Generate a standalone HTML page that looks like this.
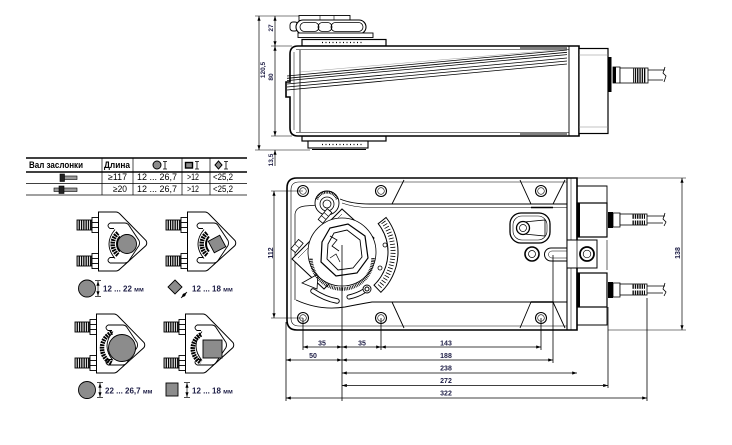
<!DOCTYPE html>
<html><head><meta charset="utf-8"><style>
html,body{margin:0;padding:0;background:#fff;width:732px;height:445px;overflow:hidden}
svg{display:block}
</style></head><body>
<svg xmlns="http://www.w3.org/2000/svg" xmlns:xlink="http://www.w3.org/1999/xlink" width="732" height="445" viewBox="0 0 732 445" font-family="'Liberation Sans', 'Noto Sans CJK SC', sans-serif">
<defs>
<marker id="ar" viewBox="0 0 6 4" markerWidth="5" markerHeight="3.2" refX="6" refY="2" orient="auto-start-reverse" markerUnits="userSpaceOnUse"><path d="M0,0 L6,2 L0,4 Z" fill="#000"/></marker>
<pattern id="thr" width="2.3" height="20" patternUnits="userSpaceOnUse"><rect width="1.3" height="20" fill="#000"/></pattern>
<g id="cb" stroke="#000" stroke-width="0.9">
 <rect x="-43" y="-21.5" width="15" height="10" fill="url(#thr)"/>
 <rect x="-43" y="14.5" width="15" height="10" fill="url(#thr)"/>
 <rect x="-28" y="-24" width="6.5" height="15" fill="#fff"/>
 <line x1="-28" y1="-19" x2="-21.5" y2="-19"/><line x1="-28" y1="-14" x2="-21.5" y2="-14"/>
 <rect x="-28" y="12" width="6.5" height="15" fill="#fff"/>
 <line x1="-28" y1="17" x2="-21.5" y2="17"/><line x1="-28" y1="22" x2="-21.5" y2="22"/>
 <path d="M-21.5,-29.5 H-4 Q-2,-29.5 0,-27.5 L26,-1 Q27.5,1.5 26,4 L0,27.5 Q-2,29.5 -4,29.5 H-21.5 Z" fill="#fff" stroke-width="1"/>
 <path d="M-10,-18.5 H5 Q7,-18.5 8.5,-16.8 L19,-1 Q20,1.5 19,4 L8.5,19.8 Q7,21.5 5,21.5 H-10" fill="none"/>
 <path d="M-10,-18.5 Q-14,-16 -10,-13 L-6,-13 M-10,21.5 Q-14,19 -10,16 L-6,16" fill="none"/>
 <path d="M-5,-12 Q-17,2.5 -5,17" fill="none"/>
</g>
</defs>

<!-- ================= TABLE ================= -->
<g stroke="#000" fill="none">
 <line x1="26" y1="158" x2="247" y2="158" stroke-width="1.6"/>
 <line x1="26" y1="172" x2="247" y2="172" stroke-width="1.6"/>
 <line x1="26" y1="183.5" x2="247" y2="183.5" stroke-width="0.7"/>
 <line x1="26" y1="195" x2="247" y2="195" stroke-width="0.7"/>
 <line x1="102" y1="158" x2="102" y2="195" stroke-width="0.7"/>
 <line x1="133" y1="158" x2="133" y2="195" stroke-width="0.7"/>
 <line x1="182" y1="158" x2="182" y2="195" stroke-width="0.7"/>
 <line x1="210" y1="158" x2="210" y2="195" stroke-width="0.7"/>
</g>
<g font-size="9" fill="#000">
 <text x="29" y="168" font-weight="bold" textLength="54" lengthAdjust="spacingAndGlyphs">Вал заслонки</text>
 <text x="104" y="168" font-weight="bold" textLength="26" lengthAdjust="spacingAndGlyphs">Длина</text>
 <text x="108" y="180" textLength="19" lengthAdjust="spacingAndGlyphs">≥117</text>
 <text x="137" y="180" textLength="40" lengthAdjust="spacingAndGlyphs">12 ... 26,7</text>
 <text x="187" y="180" textLength="12" lengthAdjust="spacingAndGlyphs">&gt;12</text>
 <text x="213" y="180" textLength="20" lengthAdjust="spacingAndGlyphs">&lt;25,2</text>
 <text x="113" y="192" textLength="14" lengthAdjust="spacingAndGlyphs">≥20</text>
 <text x="137" y="192" textLength="40" lengthAdjust="spacingAndGlyphs">12 ... 26,7</text>
 <text x="187" y="192" textLength="12" lengthAdjust="spacingAndGlyphs">&gt;12</text>
 <text x="213" y="192" textLength="20" lengthAdjust="spacingAndGlyphs">&lt;25,2</text>
</g>
<!-- header icons -->
<g stroke="#000" stroke-width="0.8">
 <circle cx="157" cy="165" r="4" fill="#8c8c8c" stroke-width="1"/>
 <path d="M163,161.5 H167 M165,161.5 V169 M163,169 H167" fill="none"/>
 <rect x="185.5" y="162.5" width="7" height="5.5" fill="#8c8c8c" stroke-width="1.4"/>
 <path d="M195,161.5 H199 M197,161.5 V169 M195,169 H199" fill="none"/>
 <path d="M218.5,161 L222,165 L218.5,169 L215,165 Z" fill="#8c8c8c" stroke-width="1"/>
 <path d="M224,161.5 H228 M226,161.5 V169 M224,169 H228" fill="none"/>
 <!-- shaft icons -->
 <rect x="64" y="176" width="13" height="3.5" fill="#9a9a9a" stroke-width="0.6"/>
 <rect x="60" y="174" width="4.5" height="7.5" fill="#222" stroke-width="0.6"/>
 <rect x="54" y="188" width="23" height="3.5" fill="#9a9a9a" stroke-width="0.6"/>
 <rect x="59" y="186" width="5" height="7.5" fill="#222" stroke-width="0.6"/>
</g>

<!-- ================= CLAMPS ================= -->
<use xlink:href="#cb" href="#cb" transform="translate(120,241.5)"/>
<g transform="translate(120,241.5)" stroke="#000">
 <path d="M-2,-8.5 A14,14 0 0 0 -2,13.5" fill="none" stroke-width="4.5" stroke-dasharray="1.8 0.8"/>
 <path d="M0,-5 A11,11 0 0 0 0,10" fill="none" stroke-width="2"/>
 <circle cx="7" cy="2.5" r="9.5" fill="#8c8c8c" stroke-width="0.9"/>
</g>
<use xlink:href="#cb" href="#cb" transform="translate(209,241.5)"/>
<g transform="translate(209,241.5)" stroke="#000">
 <path d="M-2,-8.5 A14,14 0 0 0 -2,13.5" fill="none" stroke-width="4.5" stroke-dasharray="1.8 0.8"/>
 <path d="M0,-5 A11,11 0 0 0 0,10" fill="none" stroke-width="2"/>
 <rect x="-6.5" y="-6.5" width="13" height="13" fill="#8c8c8c" stroke-width="0.9" transform="translate(8,2.5) rotate(-28)"/>
</g>
<use xlink:href="#cb" href="#cb" transform="translate(118,343.5)"/>
<g transform="translate(118,343.5)" stroke="#000">
 <path d="M-6,-11 A17,17 0 0 0 -6,20" fill="none" stroke-width="4.5" stroke-dasharray="1.8 0.8"/>
 <circle cx="4" cy="4.5" r="13.5" fill="#8c8c8c" stroke-width="0.9"/>
</g>
<use xlink:href="#cb" href="#cb" transform="translate(207,343.5)"/>
<g transform="translate(207,343.5)" stroke="#000">
 <path d="M-6,-9 A16,16 0 0 0 -6,19" fill="none" stroke-width="4.5" stroke-dasharray="1.8 0.8"/>
 <rect x="-4" y="-3.5" width="19" height="18" fill="#8c8c8c" stroke-width="0.9"/>
</g>

<!-- legend -->
<g stroke="#000" stroke-width="0.7" fill="none">
 <circle cx="87" cy="288.5" r="8.5" fill="#8c8c8c" stroke-width="0.9"/>
 <line x1="98" y1="281" x2="98" y2="296" marker-start="url(#ar)" marker-end="url(#ar)"/>
 <line x1="95" y1="280.5" x2="101" y2="280.5"/><line x1="95" y1="296.5" x2="101" y2="296.5"/>
 <path d="M175,280 L182,287 L175,294 L168,287 Z" fill="#8c8c8c" stroke-width="0.9"/>
 <line x1="181" y1="298" x2="187" y2="292" marker-start="url(#ar)" marker-end="url(#ar)"/>
 <circle cx="87" cy="390" r="8.5" fill="#8c8c8c" stroke-width="0.9"/>
 <line x1="100" y1="383" x2="100" y2="397" marker-start="url(#ar)" marker-end="url(#ar)"/>
 <line x1="97" y1="382.5" x2="103" y2="382.5"/><line x1="97" y1="397.5" x2="103" y2="397.5"/>
 <rect x="166" y="383" width="12" height="13" fill="#8c8c8c" stroke-width="0.9"/>
 <line x1="187" y1="383" x2="187" y2="397" marker-start="url(#ar)" marker-end="url(#ar)"/>
 <line x1="184" y1="382.5" x2="190" y2="382.5"/><line x1="184" y1="397.5" x2="190" y2="397.5"/>
</g>
<g font-size="8" font-weight="bold" fill="#1d1d45">
 <text x="103" y="291.5">12 ... 22 <tspan font-size="6.5">мм</tspan></text>
 <text x="192" y="291.5">12 ... 18 <tspan font-size="6.5">мм</tspan></text>
 <text x="105" y="393.5">22 ... 26,7 <tspan font-size="6.5">мм</tspan></text>
 <text x="192" y="393.5">12 ... 18 <tspan font-size="6.5">мм</tspan></text>
</g>

<!-- ================= TOP VIEW ================= -->
<g fill="none" stroke="#000">
 <!-- dimension lines -->
 <line x1="259" y1="16" x2="259" y2="150" stroke-width="0.7" marker-start="url(#ar)" marker-end="url(#ar)"/>
 <line x1="275" y1="16" x2="275" y2="46" stroke-width="0.7" marker-start="url(#ar)" marker-end="url(#ar)"/>
 <line x1="275" y1="46" x2="275" y2="136" stroke-width="0.7" marker-start="url(#ar)" marker-end="url(#ar)"/>
 <line x1="275" y1="150" x2="275" y2="166" stroke-width="0.7" marker-start="url(#ar)"/>
 <line x1="255" y1="16" x2="300" y2="16" stroke-width="0.6"/>
 <line x1="271" y1="46" x2="292" y2="46" stroke-width="0.6"/>
 <line x1="271" y1="136" x2="292" y2="136" stroke-width="0.6"/>
 <line x1="255" y1="150" x2="310" y2="150" stroke-width="0.6"/>

 <!-- top clamp -->
 <rect x="299" y="15.5" width="51" height="5" stroke-width="0.9" fill="#fff"/>
 <line x1="320" y1="15.5" x2="320" y2="20.5" stroke-width="0.6"/>
 <line x1="334" y1="15.5" x2="334" y2="20.5" stroke-width="0.6"/>
 <rect x="290" y="22" width="8" height="9" rx="3" stroke-width="0.9" fill="#fff"/>
 <rect x="296" y="20" width="70" height="14" rx="7" stroke-width="1.1" fill="#fff"/>
 <rect x="300" y="22.5" width="19" height="9" rx="4.5" stroke-width="0.8"/>
 <rect x="318" y="22.5" width="14" height="9" rx="4.5" stroke-width="0.8"/>
 <rect x="331" y="22.5" width="32" height="9" rx="4.5" stroke-width="0.8"/>
 <rect x="298" y="33" width="75" height="4.5" stroke-width="0.9" fill="#fff"/>
 <rect x="302" y="39.5" width="84" height="6.5" stroke-width="1.2" fill="#fff"/>
 <line x1="322" y1="42.5" x2="362" y2="42.5" stroke-width="1.3" stroke-dasharray="1 2.5"/>
 <!-- bottom clamp -->
 <rect x="302" y="136" width="84" height="5" stroke-width="1.2" fill="#fff"/>
 <rect x="308" y="141" width="60" height="7" stroke-width="1.1" fill="#fff"/>
 <line x1="322" y1="144.5" x2="362" y2="144.5" stroke-width="1.3" stroke-dasharray="1 2.5"/>
 <line x1="312" y1="149.5" x2="366" y2="149.5" stroke-width="0.9"/>

 <!-- body -->
 <path d="M298,46 H579 V136 H298 Q290,136 290,128 V97 H286 V82 H290 V54 Q290,46 298,46 Z" stroke-width="1.6" fill="#fff"/>
 <line x1="296" y1="49.5" x2="569" y2="49.5" stroke-width="0.6"/>
 <line x1="296" y1="132.5" x2="569" y2="132.5" stroke-width="0.6"/>
 <line x1="300" y1="50" x2="300" y2="132" stroke-width="0.8"/>
 <line x1="294" y1="52" x2="294" y2="130" stroke-width="0.5"/>
 <line x1="569" y1="46" x2="569" y2="136" stroke-width="0.9"/>
 <line x1="520" y1="48" x2="567" y2="48" stroke-width="1"/>
 <line x1="520" y1="134" x2="567" y2="134" stroke-width="1"/>
 <!-- stripes -->
 <g stroke-width="0.8">
  <line x1="287" y1="76" x2="567" y2="50"/>
  <line x1="287" y1="78.3" x2="567" y2="52.3"/>
  <line x1="287" y1="80.6" x2="567" y2="54.6"/>
  <line x1="287" y1="84" x2="567" y2="58"/>
  <line x1="287" y1="87" x2="567" y2="61"/>
  <line x1="287" y1="90" x2="567" y2="64"/>
 </g>
 <line x1="300" y1="72" x2="567" y2="49" stroke-width="0.4" stroke="#888"/>
 <!-- end cap -->
 <rect x="579" y="48.5" width="29" height="85" stroke-width="1.2" fill="#fff"/>
 <line x1="579" y1="55" x2="608" y2="55" stroke-width="0.6" stroke="#888"/>
 <line x1="579" y1="127" x2="608" y2="127" stroke-width="0.6" stroke="#888"/>
 <rect x="607.5" y="57" width="4" height="35" fill="#000" stroke="none"/>
 <!-- cable -->
 <rect x="613" y="67" width="7" height="16" stroke-width="0.8" fill="#fff"/>
 <rect x="613" y="67" width="3" height="16" fill="#000" stroke="none"/>
 <rect x="620" y="68" width="28" height="15" stroke-width="0.8" fill="#fff"/>
 <rect x="633" y="68.5" width="13" height="14" fill="url(#thr)" stroke="none"/>
 <path d="M648,70 H665 M648,80 H663" stroke-width="0.8"/>
 <path d="M665,67 L663,73 L666,76 L664,82" stroke-width="0.8"/>
</g>
<g font-size="7" font-weight="bold" fill="#1d1d45">
 <text transform="translate(265,70) rotate(-90)" text-anchor="middle" font-size="6.5">120,5</text>
 <text transform="translate(273,28) rotate(-90)" text-anchor="middle" font-size="6.5">27</text>
 <text transform="translate(273,77) rotate(-90)" text-anchor="middle" font-size="6.5">80</text>
 <text transform="translate(273,160) rotate(-90)" text-anchor="middle" font-size="6.5">13,5</text>
</g>

<!-- ================= FRONT VIEW ================= -->
<g fill="none" stroke="#000">
 <!-- body outline -->
 <path d="M297,178 H577 V330 H297 Q287,330 287,320 V188 Q287,178 297,178 Z" stroke-width="1.6" fill="#fff"/>
 <path d="M299,182 H567 M299,326 H567 M291,190 Q291,182 299,182 M291,318 Q291,326 299,326 M291,190 V318" stroke-width="0.6"/>
 <line x1="567" y1="178" x2="567" y2="330" stroke-width="1.1"/>
 <line x1="571" y1="178" x2="571" y2="330" stroke-width="0.5"/>
 <!-- inner lines -->
 <path d="M340,199 Q352,204 370,204 H567" stroke-width="0.9"/>
 <path d="M342,203 Q354,207.5 370,207.5 H567" stroke-width="0.6"/>
 <path d="M296,300 Q320,311 345,307 Q360,304 372,302 H567" stroke-width="0.9"/>
 <path d="M295,300 V214 Q296,207 305,206 L318,205" stroke-width="0.7"/>
 <!-- bosses -->
 <path d="M404,180 L392,204 M520,180 L531,204 M565,180 L553,204" stroke-width="0.9"/>
 <path d="M392,302 L404,328 M531,302 L520,328 M553,302 L565,328" stroke-width="0.9"/>
 <path d="M531,207.5 L553,207.5" stroke-width="1.5"/>
 <path d="M531,302 L553,302" stroke-width="1.5"/>
 <!-- holes -->
 <g stroke-width="1.1">
  <circle cx="303" cy="191" r="5.5"/><circle cx="303" cy="191" r="3.3" stroke-width="0.6"/>
  <circle cx="381" cy="191" r="5.5"/><circle cx="381" cy="191" r="3.3" stroke-width="0.6"/>
  <circle cx="541" cy="191" r="5.5"/><circle cx="541" cy="191" r="3.3" stroke-width="0.6"/>
  <circle cx="303" cy="318" r="5.5"/><circle cx="303" cy="318" r="3.3" stroke-width="0.6"/>
  <circle cx="381" cy="318" r="5.5"/><circle cx="381" cy="318" r="3.3" stroke-width="0.6"/>
  <circle cx="541" cy="318" r="5.5"/><circle cx="541" cy="318" r="3.3" stroke-width="0.6"/>
 </g>

 <!-- gear assembly -->
 <path d="M378.2,223.7 L386.1,217.5 A56,56 0 0 1 380.9,292.3 L374,285.1 A46,46 0 0 0 378.2,223.7 Z" fill="#fff" stroke-width="1"/>
 <path d="M383.3,222 A51,51 0 0 1 378.7,287.4" stroke-width="5" stroke-dasharray="0.8 2.2"/>
 <circle cx="385" cy="245" r="2" stroke-width="0.8"/>
 <circle cx="380" cy="268" r="2" stroke-width="0.8"/>
 <path d="M292,259 L342,209 L374,238 L324,289 Z" fill="#fff" stroke-width="1"/>
 <path d="M298,258 L342,214" stroke-width="0.5"/>
 <!-- lower left -->
 <path d="M302,283 L318,274 L317,289 Z" stroke-width="0.8" fill="#fff"/>
 <path d="M313,291 Q325,299 337,301" stroke-width="5.5" stroke-linecap="round"/>
 <path d="M313,291 Q325,299 337,301" stroke-width="3.6" stroke="#fff" stroke-linecap="round"/>
 <path d="M349,297 Q358,295 364,291" stroke-width="5" stroke-linecap="round"/>
 <path d="M349,297 Q358,295 364,291" stroke-width="3.2" stroke="#fff" stroke-linecap="round"/>
 <circle cx="367" cy="289" r="4" stroke-width="0.9" fill="#fff"/>
 <circle cx="367" cy="289" r="2" stroke-width="1"/>
 <!-- hub -->
 <circle cx="342" cy="252" r="34" stroke-width="0.8" fill="#fff"/>
 <path d="M373,258 A31,31 0 0 1 311,258" stroke-width="3.5" stroke-dasharray="0.8 0.9"/>
 <path d="M322,242 L330,228 L348,224 L365,236 L368,258 L357,273 L336,276 L321,262 Z" fill="#fff" stroke-width="1.2"/>
 <path d="M328,244 L334,233 L347,230 L360,240 L362,257 L353,268 L338,270 L327,259 Z" stroke-width="0.9"/>
 <path d="M330,236 L337,240 L332,246 L339,251" stroke-width="0.8"/>
 <path d="M330,258 L336,254 L340,262" stroke-width="0.7"/>
 <!-- small gear -->
 <circle cx="327" cy="203" r="12" fill="#fff" stroke-width="0.9"/>
 <path d="M316.7,199.2 A11,11 0 0 1 337.3,199.2" stroke-width="3" stroke-dasharray="0.9 0.8"/>
 <circle cx="327" cy="204" r="7" stroke-width="0.8"/>
 <circle cx="327" cy="204" r="4" stroke-width="0.8"/>
 <g transform="translate(325,216) rotate(-50)"><rect x="-7" y="-3" width="14" height="6" fill="#fff" stroke-width="0.8"/><line x1="-2" y1="-3" x2="-2" y2="3" stroke-width="0.6"/><line x1="2" y1="-3" x2="2" y2="3" stroke-width="0.6"/></g>
 <g transform="translate(297,246) rotate(-50)"><rect x="-6" y="-3" width="12" height="6" fill="#fff" stroke-width="0.8"/><line x1="0" y1="-3" x2="0" y2="3" stroke-width="0.6"/></g>

 <!-- right side features -->
 <rect x="510" y="213" width="40" height="30" rx="11" stroke-width="1.3"/>
 <rect x="513" y="216" width="34" height="24" rx="9" stroke-width="0.6"/>
 <path d="M524,222 L545,220 L545,236 L524,234" stroke-width="0.8"/>
 <circle cx="523" cy="228" r="6.5" stroke-width="1.3" fill="#fff"/>
 <circle cx="523" cy="228" r="3.5" stroke-width="0.7"/>
 <circle cx="532" cy="254" r="7" stroke-width="1.6"/>
 <circle cx="532" cy="254" r="3.5" stroke-width="0.7"/>
 <path d="M567,248 H551 A6.5,6.5 0 0 0 551,261 H567" stroke-width="1"/>
 <path d="M567,251 H552 A3.5,3.5 0 0 0 552,258 H567" stroke-width="0.5"/>

 <!-- connector housing -->
 <path d="M577,186 H607 V203 M607,307 V325 H577" stroke-width="0.9"/>
 <rect x="577" y="203" width="30" height="34" stroke-width="1.2" fill="#fff"/>
 <rect x="577" y="203" width="3" height="34" fill="#000" stroke="none"/>
 <rect x="577" y="273" width="30" height="34" stroke-width="1.2" fill="#fff"/>
 <rect x="577" y="273" width="3" height="34" fill="#000" stroke="none"/>
 <rect x="567" y="240" width="30" height="28" stroke-width="1" fill="#fff"/>
 <line x1="577" y1="240" x2="577" y2="268" stroke-width="0.7"/>
 <circle cx="587" cy="254" r="7" stroke-width="1.8"/>
 <circle cx="587" cy="254" r="3.8" stroke-width="0.7"/>
 <path d="M607,240 V270" stroke-width="0.6"/>
 <!-- cables -->
 <g>
  <rect x="608" y="212" width="5" height="16" fill="#000" stroke="none"/>
  <rect x="613" y="213" width="7" height="14" stroke-width="0.8" fill="#fff"/>
  <rect x="620" y="214" width="27" height="11" stroke-width="0.8" fill="#fff"/>
  <rect x="632" y="214.5" width="13" height="4.3" fill="url(#thr)" stroke="none"/>
  <rect x="632" y="220.5" width="13" height="4.3" fill="url(#thr)" stroke="none"/>
  <path d="M647,216 H665 M647,223 H663 M665,213 L663,219 L666,222 L664,226" stroke-width="0.8"/>
 </g>
 <g transform="translate(0,70)">
  <rect x="608" y="212" width="5" height="16" fill="#000" stroke="none"/>
  <rect x="613" y="213" width="7" height="14" stroke-width="0.8" fill="#fff"/>
  <rect x="620" y="214" width="27" height="11" stroke-width="0.8" fill="#fff"/>
  <rect x="632" y="214.5" width="13" height="4.3" fill="url(#thr)" stroke="none"/>
  <rect x="632" y="220.5" width="13" height="4.3" fill="url(#thr)" stroke="none"/>
  <path d="M647,216 H665 M647,223 H663 M665,213 L663,219 L666,222 L664,226" stroke-width="0.8"/>
 </g>

 <!-- dimensions: 112 / 138 -->
 <line x1="274" y1="191" x2="274" y2="318" stroke-width="0.7" marker-start="url(#ar)" marker-end="url(#ar)"/>
 <line x1="271" y1="191" x2="303" y2="191" stroke-width="0.6"/>
 <line x1="271" y1="318" x2="303" y2="318" stroke-width="0.6"/>
 <line x1="682" y1="178" x2="682" y2="330" stroke-width="0.7" marker-start="url(#ar)" marker-end="url(#ar)"/>
 <line x1="577" y1="178" x2="686" y2="178" stroke-width="0.6"/>
 <line x1="608" y1="330" x2="686" y2="330" stroke-width="0.6"/>

 <!-- extension lines -->
 <g stroke-width="0.8">
  <line x1="286" y1="322" x2="286" y2="401"/>
  <line x1="303" y1="318" x2="303" y2="350"/>
  <line x1="342" y1="245" x2="342" y2="401"/>
  <line x1="381" y1="318" x2="381" y2="350"/>
  <line x1="541" y1="318" x2="541" y2="350"/>
  <line x1="553" y1="255" x2="553" y2="363"/>
  <line x1="608" y1="307" x2="608" y2="388"/>
  <line x1="647" y1="298" x2="647" y2="401"/>
 </g>
 <!-- dimension lines -->
 <g stroke-width="0.7">
  <line x1="303" y1="347" x2="342" y2="347" marker-start="url(#ar)" marker-end="url(#ar)"/>
  <line x1="342" y1="347" x2="381" y2="347" marker-start="url(#ar)" marker-end="url(#ar)"/>
  <line x1="381" y1="347" x2="541" y2="347" marker-start="url(#ar)" marker-end="url(#ar)"/>
  <line x1="286" y1="360" x2="342" y2="360" marker-start="url(#ar)" marker-end="url(#ar)"/>
  <line x1="342" y1="360" x2="553" y2="360" marker-start="url(#ar)" marker-end="url(#ar)"/>
  <line x1="342" y1="373" x2="577" y2="373" marker-start="url(#ar)" marker-end="url(#ar)"/>
  <line x1="342" y1="385.5" x2="608" y2="385.5" marker-start="url(#ar)" marker-end="url(#ar)"/>
  <line x1="286" y1="398" x2="647" y2="398" marker-start="url(#ar)" marker-end="url(#ar)"/>
 </g>
</g>
<g font-size="7" font-weight="bold" fill="#1d1d45" text-anchor="middle">
 <text x="322" y="345.5">35</text>
 <text x="362" y="345.5">35</text>
 <text x="446" y="345.5">143</text>
 <text x="313" y="358">50</text>
 <text x="446" y="358">188</text>
 <text x="446" y="370.5">238</text>
 <text x="446" y="383">272</text>
 <text x="446" y="395.5">322</text>
 <text transform="translate(273,253) rotate(-90)">112</text>
 <text transform="translate(680,253) rotate(-90)">138</text>
</g>
</svg>
</body></html>
